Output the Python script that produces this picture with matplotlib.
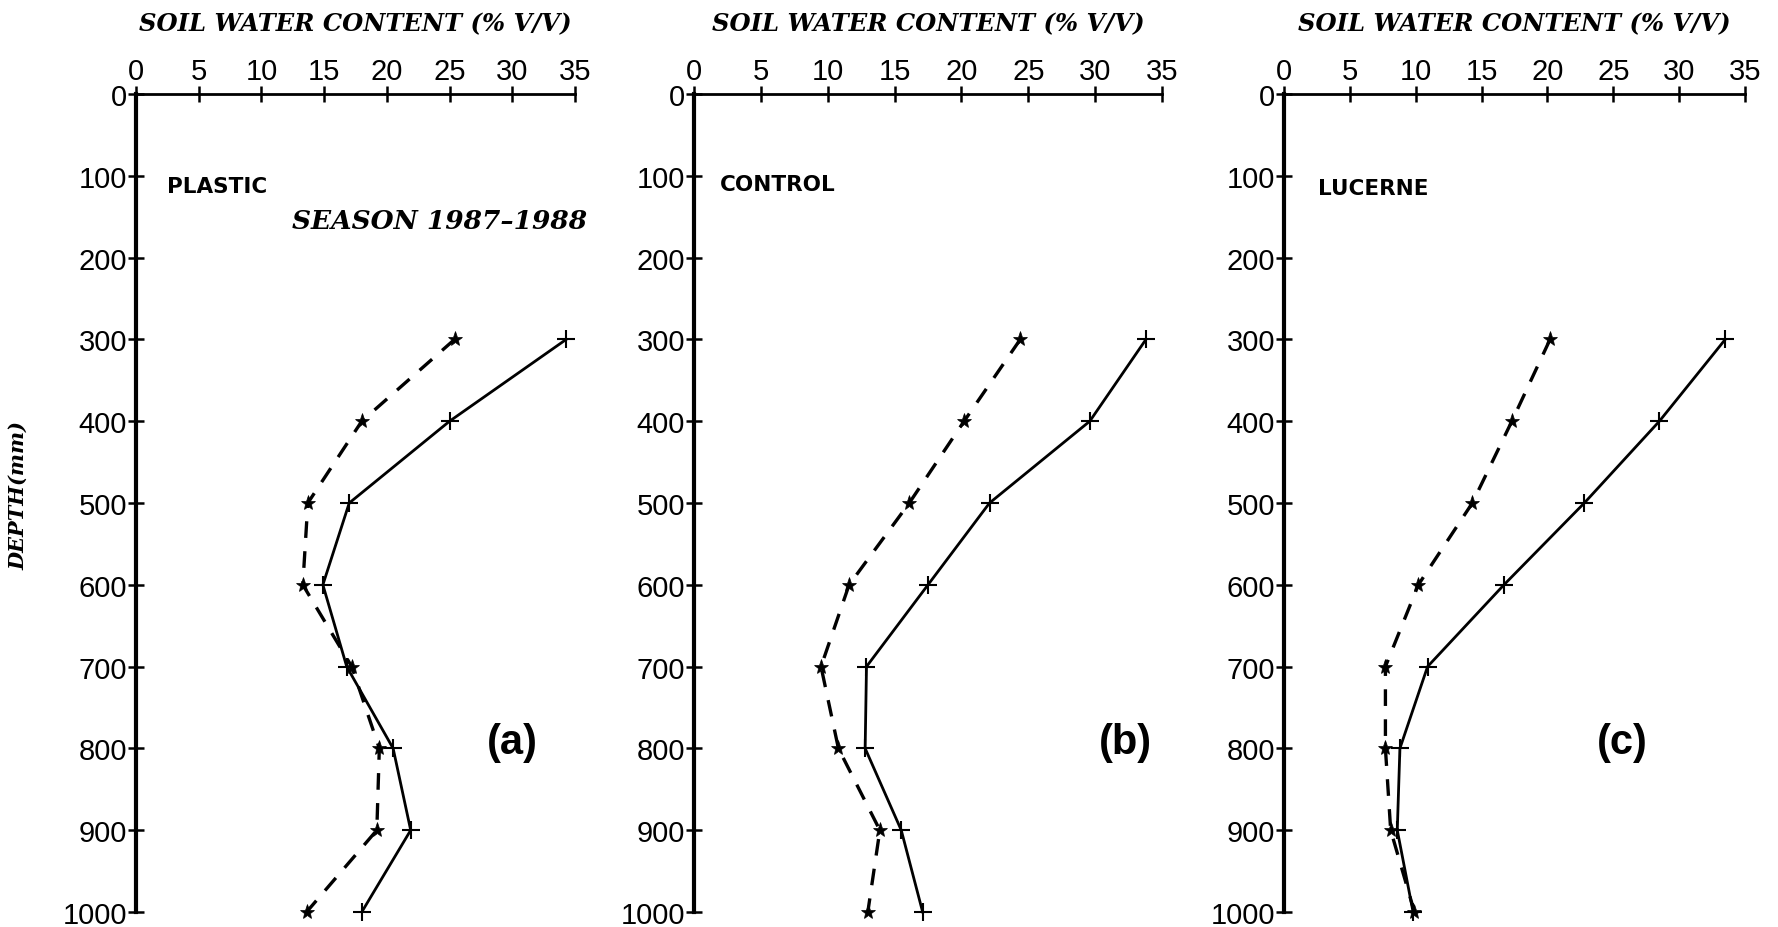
import matplotlib
matplotlib.use('Agg')
import matplotlib.pyplot as plt
import numpy as np

# depth (mm) and soil water content (% v/v)
depth = [300, 400, 500, 600, 700, 800, 900, 1000]

plastic_solid = [34.3, 25.0, 17.0, 14.9, 16.8, 20.5, 21.9, 18.0]
plastic_dash = [25.4, 18.0, 13.7, 13.3, 17.2, 19.4, 19.2, 13.6]

control_solid = [33.8, 29.6, 22.1, 17.5, 12.9, 12.8, 15.5, 17.1]
control_dash = [24.4, 20.2, 16.1, 11.6, 9.5, 10.8, 13.9, 13.0]

lucerne_solid = [33.5, 28.5, 22.8, 16.7, 10.9, 8.8, 8.6, 9.8]
lucerne_dash = [20.2, 17.3, 14.3, 10.2, 7.7, 7.7, 8.1, 9.9]

panel_names = ['PLASTIC', 'CONTROL', 'LUCERNE']
panel_tags = ['(a)', '(b)', '(c)']
solid_series = [plastic_solid, control_solid, lucerne_solid]
dash_series = [plastic_dash, control_dash, lucerne_dash]
x_ticks = [0, 5, 10, 15, 20, 25, 30, 35]
y_ticks = [0, 100, 200, 300, 400, 500, 600, 700, 800, 900, 1000]

W, H = 1778, 928
fig = plt.figure(figsize=(W / 100, H / 100), dpi=100)

# axes boxes in pixels: (x of zero, x of 35)
boxes = [(136, 575), (694, 1162), (1284, 1745)]
top_px, bot_px = 95, 913
tag_x = [30.0, 32.3, 25.7]
name_pos = [(2.5, 112), (1.9, 110), (2.6, 115)]

num_font = 'Liberation Sans'
for i, (x0, x1) in enumerate(boxes):
    ax = fig.add_axes([x0 / W, 1 - bot_px / H, (x1 - x0) / W, (bot_px - top_px) / H])
    ax.plot(solid_series[i], depth, color='black', lw=2.0, marker='+',
            ms=13, mew=1.5, clip_on=False)
    ax.plot(dash_series[i], depth, color='black', lw=2.4, ls=(0, (5, 4)),
            marker='*', ms=11, mew=0.5, clip_on=False)

    ax.set_xlim(0, 35)
    ax.set_ylim(1000, 0)
    ax.xaxis.tick_top()
    ax.set_xticks(x_ticks)
    ax.set_yticks(y_ticks)
    for s in ['right', 'bottom']:
        ax.spines[s].set_visible(False)
    ax.spines['left'].set_linewidth(3)
    ax.spines['top'].set_linewidth(2)
    ax.tick_params(direction='inout', length=11, width=1.8, labelsize=21, pad=1)
    for lab in ax.get_xticklabels() + ax.get_yticklabels():
        lab.set_fontfamily(num_font)

    ax.text(0.5, 1.086, 'SOIL WATER CONTENT (% V/V)', transform=ax.transAxes,
            ha='center', va='center', fontsize=17.5, fontweight='bold',
            fontstyle='italic', family='DejaVu Serif')
    ax.text(name_pos[i][0], name_pos[i][1], panel_names[i], ha='left', va='center',
            fontsize=15.5, fontweight='bold', family='DejaVu Sans')
    ax.text(tag_x[i], 792, panel_tags[i], ha='center', va='center',
            fontsize=30, fontweight='bold', family=num_font)

    if i == 0:
        ax.text(12.4, 155, 'SEASON 1987\u20131988', ha='left', va='center',
                fontsize=19, fontweight='bold', fontstyle='italic', family='DejaVu Serif')
        ax.set_ylabel('DEPTH(mm)', fontsize=15, fontweight='bold',
                      fontstyle='italic', family='DejaVu Serif')
        ax.yaxis.set_label_coords(-0.245, 0.51)

fig.savefig('out.png', dpi=100, facecolor='white')
